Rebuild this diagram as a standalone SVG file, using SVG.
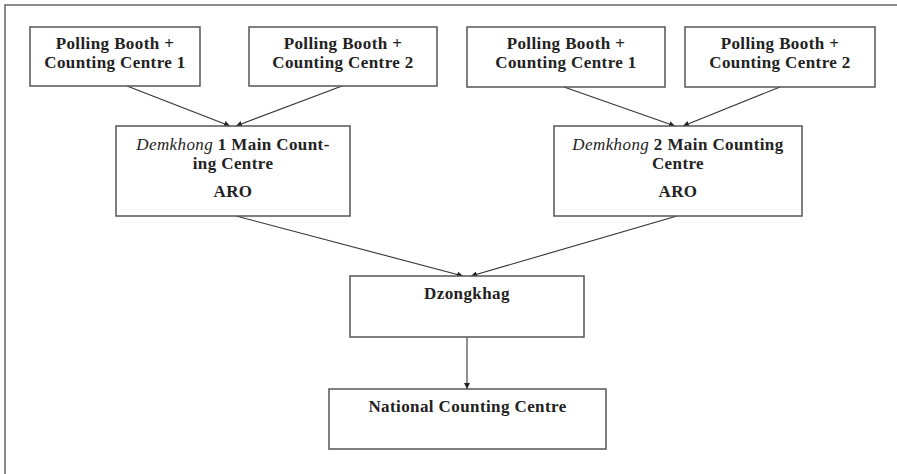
<svg xmlns="http://www.w3.org/2000/svg" width="897" height="474" viewBox="0 0 897 474">
<defs>
<marker id="ah" viewBox="0 0 10 10" refX="10" refY="5" markerWidth="6" markerHeight="6" markerUnits="userSpaceOnUse" orient="auto">
<path d="M0,0 L10,5 L0,10 z" fill="#222"/>
</marker>
</defs>
<style>
.box{fill:#fff;stroke:#555;stroke-width:1.5}
.t{font-family:"Liberation Serif","Times New Roman",serif;font-size:17px;letter-spacing:0.4px;font-weight:bold;fill:#222;text-anchor:middle}
.i{font-style:italic;font-weight:normal}
.c{stroke:#333;stroke-width:1.1;fill:none;marker-end:url(#ah)}
.frame{stroke:#666;stroke-width:1.5;fill:none}
</style>
<rect width="897" height="474" fill="#fff"/>
<path class="frame" d="M5,474 L5,5 L897,5"/>
<g id="connectors">
<line class="c" x1="127" y1="86" x2="230" y2="126"/>
<line class="c" x1="342" y1="86" x2="236" y2="126"/>
<line class="c" x1="564" y1="87" x2="675" y2="126"/>
<line class="c" x1="780" y1="87" x2="683" y2="126"/>
<line class="c" x1="236" y1="216" x2="463" y2="276"/>
<line class="c" x1="677" y1="216" x2="471" y2="276"/>
<line class="c" x1="467" y1="337" x2="467" y2="389"/>
</g>
<g id="pb1">
<rect class="box" x="30" y="27" width="170" height="59"/>
<text class="t" x="115" y="49">Polling Booth +</text>
<text class="t" x="115" y="68">Counting Centre 1</text>
</g>
<g id="pb2">
<rect class="box" x="249" y="27" width="188" height="59"/>
<text class="t" x="343" y="49">Polling Booth +</text>
<text class="t" x="343" y="68">Counting Centre 2</text>
</g>
<g id="pb3">
<rect class="box" x="467" y="27" width="198" height="60"/>
<text class="t" x="566" y="49">Polling Booth +</text>
<text class="t" x="566" y="68">Counting Centre 1</text>
</g>
<g id="pb4">
<rect class="box" x="685" y="27" width="190" height="60"/>
<text class="t" x="780" y="49">Polling Booth +</text>
<text class="t" x="780" y="68">Counting Centre 2</text>
</g>
<g id="d1">
<rect class="box" x="116" y="126" width="234" height="90"/>
<text class="t" x="233" y="150"><tspan class="i">Demkhong</tspan> 1 Main Count-</text>
<text class="t" x="233" y="169">ing Centre</text>
<text class="t" x="233" y="197">ARO</text>
</g>
<g id="d2">
<rect class="box" x="554" y="126" width="248" height="90"/>
<text class="t" x="678" y="150"><tspan class="i">Demkhong</tspan> 2 Main Counting</text>
<text class="t" x="678" y="169">Centre</text>
<text class="t" x="678" y="197">ARO</text>
</g>
<g id="dz">
<rect class="box" x="350" y="276" width="234" height="61"/>
<text class="t" x="467" y="299">Dzongkhag</text>
</g>
<g id="ncc">
<rect class="box" x="329" y="389" width="277" height="60"/>
<text class="t" x="467.5" y="412">National Counting Centre</text>
</g>
</svg>
